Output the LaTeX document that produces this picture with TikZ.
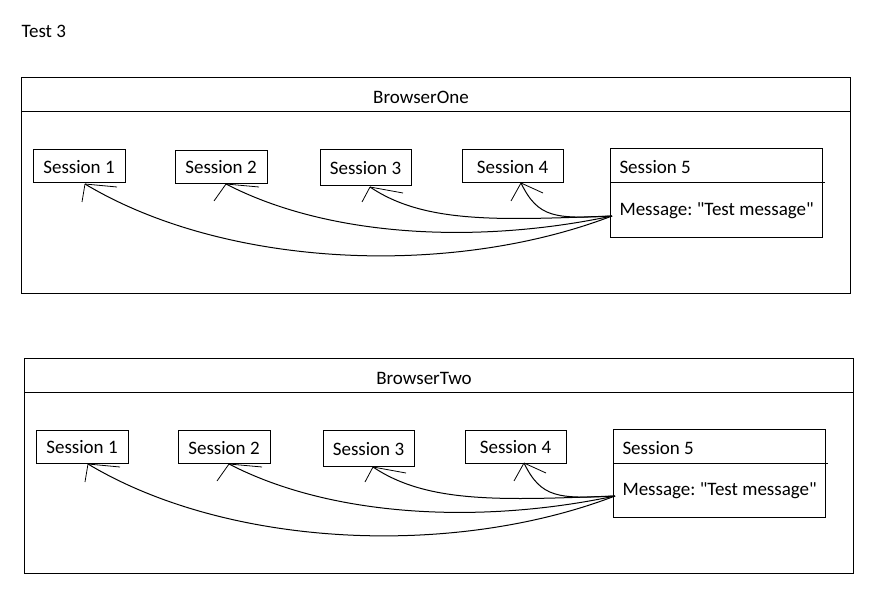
\documentclass[tikz,border=0pt]{standalone}
\usepackage{fontspec}
\setmainfont{Carlito}
\newfontfamily\rawfont{Carlito}
\frenchspacing
\tikzset{every picture/.style = {x=1pt, y=-1pt, line width=1pt}}
\tikzset{lbl/.style = {inner sep=0, text height=14, text depth=0}}
\tikzset{sess/.style = {lbl, draw, minimum height=33, minimum width=92}}
\tikzset{txt/.style = {lbl, anchor=west}}
\tikzset{head/.style = {line width=0.8pt}}

\begin{document}
\begin{tikzpicture}[font=\fontsize{19}{23}\selectfont]
  \useasboundingbox (0, 0) rectangle (875, 604);
  \node[txt] (title) at (21, 31) {Test 3};
  \foreach \dx/\dy/\name in {0/0/One, 3/280/Two} {
    \begin{scope}[shift={(\dx, \dy)}]
      \draw (21, 78) rectangle (850, 293);
      \draw (21, 112) -- (850, 112);
      \node[lbl] (browser) at (421, 97) {Browser\name};
      \node[sess] (s1) at (79, 166.5) {Session 1};
      \node[sess] (s2) at (221, 167) {Session 2};
      \node[sess, minimum width=91, minimum height=36] (s3) at (365.5, 168) {Session 3};
      \node[sess, minimum width=101] (s4) at (512.5, 166.5) {Session 4};
      \node[draw, inner sep=0, minimum width=212, minimum height=88] (s5) at (716, 193) {};
      \draw (610, 183) -- (825, 183);
      \node[txt] (s5name) at (619, 167) {Session 5};
      \node[txt, font=\fontsize{19}{23}\rawfont] (msg) at (619, 208) {Message: "Test message"};
      % hand drawn arrows
      \coordinate (src) at (612, 216);
      \coordinate (t1) at (85, 184);
      \coordinate (t2) at (226, 184);
      \coordinate (t3) at (370, 187);
      \coordinate (t4) at (521, 183);
      \draw (src) .. controls (450, 278) and (225, 268) .. (t1);
      \draw (src) .. controls (480, 244) and (330, 238) .. (t2);
      \draw (src) .. controls (500, 220) and (425, 224) .. (t3);
      \draw (src) .. controls (555, 219) and (538, 218) .. (t4);
      \draw[head] (t1) -- (82, 202) (t1) -- (117, 187);
      \draw[head] (t2) -- (214, 201) (t2) -- (259, 187);
      \draw[head] (t3) -- (362, 202) (t3) -- (403, 193);
      \draw[head] (t4) -- (511, 201) (t4) -- (543, 193);
    \end{scope}
  }
\end{tikzpicture}
\end{document}
